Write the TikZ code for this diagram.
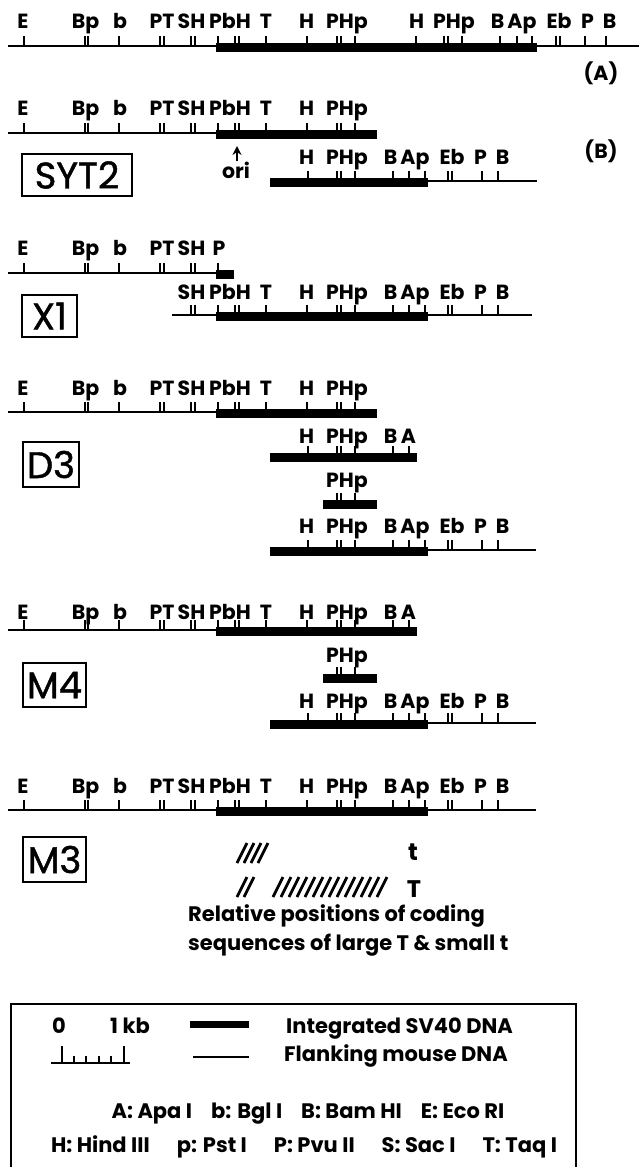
\documentclass[tikz,border=0pt]{standalone}
\usepackage{fontspec}
\setmainfont{Poppins}
\newfontfamily\boxfont{Poppins}[FakeBold=1.2]
\usetikzlibrary{arrows.meta}
\newcommand\dnarow[5]{%
  \draw[mapline] (#2,#1) -- (#3,#1);
  \fill (#4,#1-3) rectangle (#5,#1+6);}
\newcommand\sitetk[2]{\foreach \xx in #2 {\draw[tk] (\xx,#1) -- (\xx,#1-10);}}
\newcommand\sitelab[3]{\foreach \ss/\xx [count=\ii] in #3 {\node[lab] (#1-\ii) at (\xx,#2) {\ss};}}
\def\Lt{24,85,88,119,160,164,191,195,218,235,239,266,307,337,341,355}
\def\Rt{393,409,425,448,452,482,498}
\def\Ll{E/23,Bp/85.5,b/120,PT/162,SH/191.5,PbH/230,T/266,H/306.5,PHp/347}
\def\Rl{B/390.5,Ap/415,Eb/452,P/480.5,B/502.5}
\begin{document}
\begin{tikzpicture}[x=1pt,y=-1pt,
  lab/.style={font=\bfseries\fontsize{20.5}{20.5}\selectfont, anchor=base, inner sep=0pt},
  prose/.style={font=\bfseries\fontsize{21}{21}\selectfont, anchor=base, inner sep=0pt},
  boxlab/.style={draw, line width=1.8pt, font=\boxfont\fontsize{37}{37}\selectfont, inner sep=0pt},
  mapline/.style={line width=1.8pt},
  tk/.style={line width=1.6pt},
  hatchln/.style={line width=2.8pt}]
\useasboundingbox (0,0) rectangle (639,1167);
% ---- (A)
\dnarow{46}{8}{639}{216}{537}
\sitetk{46}{\Lt}
\sitetk{46}{{416,444,448,462,500,517,532,556,560,585,606}}
\sitelab{a1}{28}{\Ll}
\sitelab{a2}{28}{{H/416.5,PHp/454,B/497.5,Ap/522,Eb/559,P/587.5,B/609.5}}
\node[lab] (labA) at (601,80) {(A)};
% ---- (B) SYT2
\dnarow{133}{8}{377}{216}{377}
\sitetk{133}{\Lt}
\sitelab{b1}{115}{\Ll}
\dnarow{181}{270}{537}{270}{428}
\sitetk{181}{{308,337,341,355}}
\sitetk{181}{\Rt}
\sitelab{b2}{164}{{H/306.5,PHp/347}}
\sitelab{b3}{164}{\Rl}
\node[lab] (labB) at (601,158) {(B)};
\node[lab] (ori) at (236,178) {ori};
\coordinate (oritip) at (237,146);
\draw[line width=2.2pt,-{Stealth[length=9pt,width=9pt]}] (ori.north) ++(1,0) -- (oritip);
\node[boxlab, minimum width=110pt, minimum height=42pt] (syt2) at (77,175) {SYT2};
% ---- X1
\dnarow{273}{8}{234}{216}{234}
\sitetk{273}{{24,85,88,119,160,164,191,195,218}}
\sitelab{x1}{255}{{E/23,Bp/85.5,b/120,PT/162,SH/191.5,P/219}}
\dnarow{315}{172}{532}{216}{428}
\sitetk{315}{{191,195,218,235,239,266,307,337,341,355}}
\sitetk{315}{\Rt}
\sitelab{x2}{299}{{SH/191.5,PbH/230,T/266,H/306.5,PHp/347}}
\sitelab{x3}{299}{\Rl}
\node[boxlab, minimum width=55pt, minimum height=42pt] (bx1) at (49.5,316) {X1};
% ---- D3
\dnarow{412}{8}{377}{216}{377}
\sitetk{412}{\Lt}
\sitelab{d1}{395}{\Ll}
\fill (270,453) rectangle (417,462);
\sitetk{456}{{308,337,341,355,393,409}}
\sitelab{d2}{443}{{H/306.5,PHp/347,B/390.5,A/408.5}}
\fill (323,500) rectangle (377,509);
\sitetk{503}{{337,341,355}}
\sitelab{d3}{487}{{PHp/347}}
\dnarow{550}{270}{536}{270}{428}
\sitetk{550}{{308,337,341,355}}
\sitetk{550}{\Rt}
\sitelab{d4}{533}{{H/306.5,PHp/347}}
\sitelab{d5}{533}{\Rl}
\node[boxlab, minimum width=56pt, minimum height=45pt] (bd3) at (51,464.5) {D3};
% ---- M4
\dnarow{630}{8}{417}{216}{417}
\sitetk{630}{\Lt}
\sitetk{630}{{393,409}}
\sitelab{m1}{619}{\Ll}
\sitelab{m2}{619}{{B/390.5,A/408.5}}
\fill (323,674) rectangle (377,683);
\sitetk{677}{{337,341,355}}
\sitelab{m3}{662}{{PHp/347}}
\dnarow{723}{270}{536}{270}{428}
\sitetk{723}{{308,337,341,355}}
\sitetk{723}{\Rt}
\sitelab{m4}{708}{{H/306.5,PHp/347}}
\sitelab{m5}{708}{\Rl}
\node[boxlab, minimum width=63pt, minimum height=44pt] (bm4) at (54.5,685) {M4};
% ---- M3
\dnarow{810}{8}{536}{216}{428}
\sitetk{810}{\Lt}
\sitetk{810}{\Rt}
\sitelab{n1}{793}{\Ll}
\sitelab{n2}{793}{\Rl}
\node[boxlab, minimum width=63pt, minimum height=45pt] (bm3) at (54.5,859.5) {M3};
\foreach \x in {237,244,251,258} {\draw[hatchln] (\x,863) -- (\x+10,843);}
\foreach \x in {237,244} {\draw[hatchln] (\x,897) -- (\x+10,877);}
\foreach \x in {273,281,...,377} {\draw[hatchln] (\x,897) -- (\x+10,877);}
\node[prose, font=\bfseries\fontsize{24}{24}\selectfont] (smallt) at (413,860) {t};
\node[prose, font=\bfseries\fontsize{24}{24}\selectfont] (largeT) at (414,897) {T};
\node[prose, anchor=base west] (rel1) at (188,921) {Relative positions of coding};
\node[prose, anchor=base west] (rel2) at (188,950) {sequences of large T \& small t};
% ---- legend
\draw[line width=1.8pt] (11,1004) rectangle (576,1172);
\node[prose] (zero) at (59,1033) {0};
\node[prose] (onekb) at (130,1033) {1 kb};
\fill (190,1021) rectangle (249,1028);
\node[prose, anchor=base west] (integ) at (286,1033) {Integrated SV40 DNA};
\draw[mapline] (51,1063) -- (130,1063);
\foreach \x in {62,124} {\draw[tk] (\x,1063) -- (\x,1046);}
\foreach \x in {74,86,99,111} {\draw[tk] (\x,1063) -- (\x,1056);}
\draw[mapline] (193,1057) -- (249,1057);
\node[prose, anchor=base west] (flank) at (284,1061) {Flanking mouse DNA};
\node[prose] (enz1) at (308,1118) {A: Apa I\hspace{19pt}b: Bgl I\hspace{19pt}B: Bam HI\hspace{19pt}E: Eco RI};
\node[prose] (enz2) at (304,1152) {H: Hind III\hspace{27pt}p: Pst I\hspace{27pt}P: Pvu II\hspace{27pt}S: Sac I\hspace{27pt}T: Taq I};
\end{tikzpicture}
\end{document}
